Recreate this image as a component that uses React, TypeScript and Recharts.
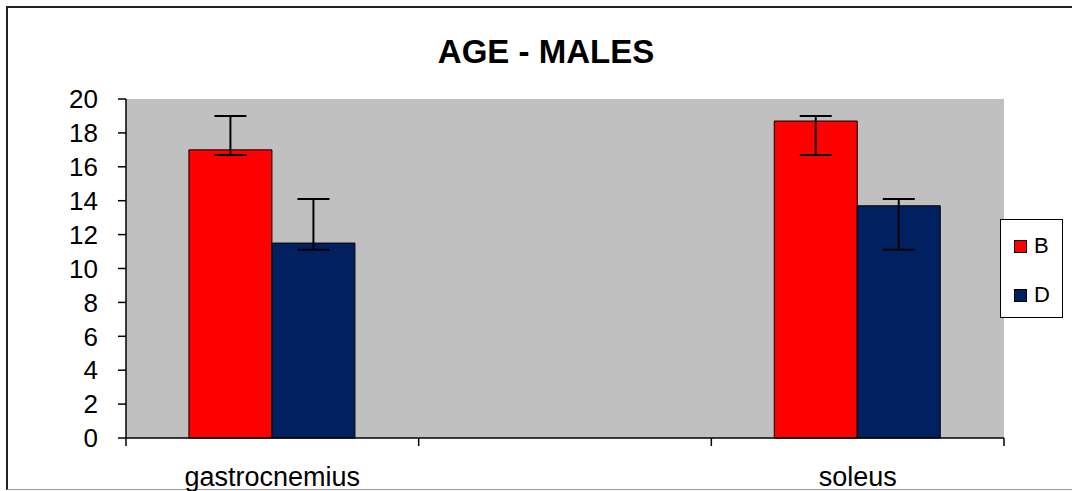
import { BarChart, Bar, XAxis, YAxis, ErrorBar, CartesianGrid } from "recharts";

const categories = ["gastrocnemius", "", "soleus"];
const seriesB = [17.0, null, 18.7];
const seriesD = [11.5, null, 13.7];
// [lower, upper] error deltas
const errB = [[0.3, 2.0], null, [2.0, 0.3]];
const errD = [[0.4, 2.6], null, [2.6, 0.4]];
const yTicks = [0, 2, 4, 6, 8, 10, 12, 14, 16, 18, 20];
const seriesNames = ["B", "D"];
const seriesColors = ["#ff0000", "#002060"];

const data = categories.map((name, i) => ({
  name,
  B: seriesB[i],
  D: seriesD[i],
  errB: errB[i],
  errD: errD[i],
}));

const FONT = "'Liberation Sans', Arial, sans-serif";
const PLOT_LEFT = 126;
const PLOT_RIGHT = 1004;
const HALF_BAND = (PLOT_RIGHT - PLOT_LEFT) / categories.length / 2;

function CategoryTick(props: any) {
  const { x, y, payload, index } = props;
  const half = payload && payload.offset ? payload.offset : HALF_BAND;
  return (
    <g>
      <line x1={x - half} y1={y} x2={x - half} y2={y + 8} stroke="#000" strokeWidth={1.5} />
      {index === categories.length - 1 && (
        <line x1={x + half} y1={y} x2={x + half} y2={y + 8} stroke="#000" strokeWidth={1.5} />
      )}
      <text x={x} y={y + 48} textAnchor="middle" fontSize={27} fill="#000" fontFamily={FONT}>
        {payload.value}
      </text>
    </g>
  );
}

export default function App() {
  return (
    <div style={{ position: "absolute", left: 0, top: 0, width: 1072, height: 491, background: "#fff", fontFamily: FONT }}>
      <div
        style={{
          position: "absolute",
          left: 6,
          top: 6,
          width: 1066,
          height: 484,
          boxSizing: "border-box",
          borderLeft: "2px solid #222",
          borderTop: "2px solid #222",
          borderBottom: "1px solid #999",
        }}
      />
      <div
        style={{
          position: "absolute",
          left: 0,
          width: 1092,
          top: 34,
          textAlign: "center",
          fontWeight: "bold",
          fontSize: 33,
          lineHeight: "36px",
        }}
      >
        AGE - MALES
      </div>
      <div style={{ position: "absolute", left: 0, top: 0 }}>
        <BarChart
          width={1072}
          height={491}
          data={data}
          margin={{ top: 99, right: 1072 - PLOT_RIGHT, bottom: 0, left: 6 }}
          barCategoryGap="21.5%"
          barGap={0}
        >
          <CartesianGrid horizontal={false} vertical={false} fill="#c0c0c0" />
          <XAxis
            dataKey="name"
            height={53}
            axisLine={{ stroke: "#000", strokeWidth: 1.5 }}
            tickLine={false}
            tickSize={0}
            tickMargin={0}
            interval={0}
            tick={<CategoryTick />}
          />
          <XAxis
            xAxisId="top"
            dataKey="name"
            orientation="top"
            height={0}
            tick={false}
            tickLine={false}
            axisLine={{ stroke: "#8c8c8c", strokeWidth: 1.5 }}
          />
          <YAxis
            width={120}
            domain={[0, 20]}
            ticks={yTicks}
            interval={0}
            tickSize={8}
            tickMargin={20}
            axisLine={{ stroke: "#000", strokeWidth: 1.5 }}
            tickLine={{ stroke: "#000", strokeWidth: 1.5 }}
            tick={{ fontSize: 26, fill: "#000", fontFamily: FONT }}
          />
          <YAxis
            yAxisId="r"
            orientation="right"
            width={0}
            domain={[0, 20]}
            tick={false}
            tickLine={false}
            axisLine={{ stroke: "#8c8c8c", strokeWidth: 1.5 }}
          />
          <Bar dataKey="B" fill={seriesColors[0]} stroke="#000" strokeWidth={1} isAnimationActive={false}>
            <ErrorBar dataKey="errB" direction="y" width={16} stroke="#000" strokeWidth={2} isAnimationActive={false} />
          </Bar>
          <Bar dataKey="D" fill={seriesColors[1]} stroke="#000" strokeWidth={1} isAnimationActive={false}>
            <ErrorBar dataKey="errD" direction="y" width={16} stroke="#000" strokeWidth={2} isAnimationActive={false} />
          </Bar>
        </BarChart>
      </div>
      <div
        style={{
          position: "absolute",
          left: 1000,
          top: 219,
          width: 63,
          height: 99,
          boxSizing: "border-box",
          border: "1px solid #000",
          background: "#fff",
        }}
      >
        {seriesNames.map((s, i) => (
          <div
            key={s}
            style={{ position: "absolute", left: 13, top: 16 + i * 49, display: "flex", alignItems: "center", gap: 7 }}
          >
            <div style={{ width: 13, height: 13, background: seriesColors[i], border: "1px solid #000", boxSizing: "border-box" }} />
            <span style={{ fontSize: 22, lineHeight: "20px", color: "#000" }}>{s}</span>
          </div>
        ))}
      </div>
    </div>
  );
}
